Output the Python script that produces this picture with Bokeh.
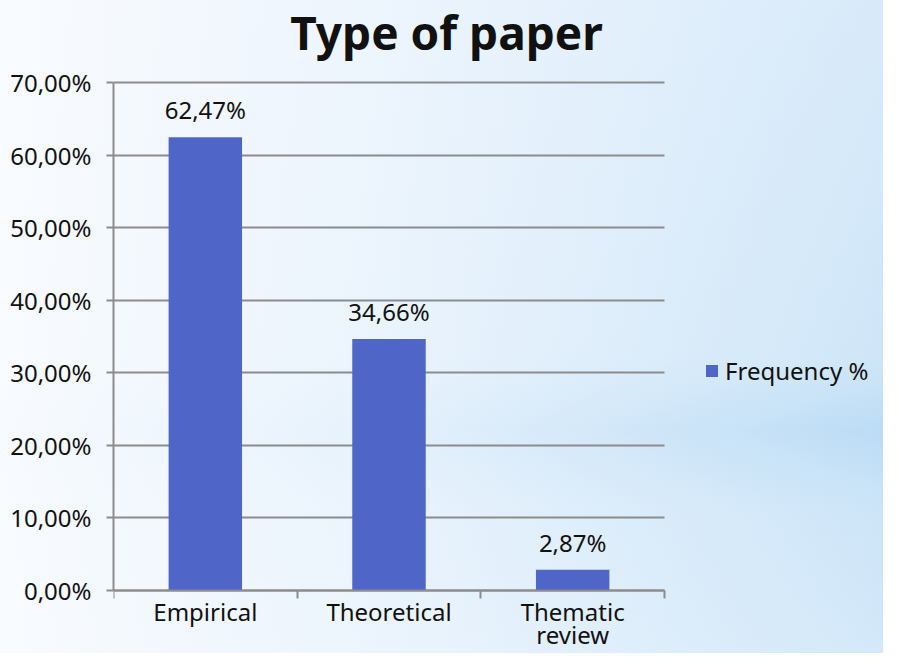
import numpy as np
from bokeh.plotting import figure
from bokeh.models import (ColumnDataSource, FixedTicker, CustomJSTickFormatter, LabelSet, Label,
                          Legend, LegendItem, Range1d, LinearAxis)
from bokeh.core.properties import value
from bokeh.embed import file_html
from bokeh.resources import INLINE

# ---- data ----
categories = ["Empirical", "Theoretical", "Thematic review"]
category_labels = ["Empirical", "Theoretical", "Thematic\nreview"]
frequency = [62.47, 34.66, 2.87]
y_ticks = [0, 10, 20, 30, 40, 50, 60, 70]
series_name = "Frequency %"
title_text = "Type of paper"

FONT = "Noto Sans"
TXT = "#111111"
GRID = "#8c8c8c"
BAR = "#4f66c8"

# ---- layout (pixels) ----
W, H = 883, 653
LEFT, TOP = 113, 82
AX_W, AX_H = 551, 508          # axes box (data area) size
Y_MAX = 70
n = len(categories)
FRAME_W = W - LEFT - 8

px_per_unit_x = AX_W / n
px_per_unit_y = AX_H / Y_MAX
x_end = FRAME_W / px_per_unit_x
y_end = Y_MAX + TOP / px_per_unit_y
y_start = -(H - TOP - AX_H) / px_per_unit_y

x_pos = np.arange(n) + 0.5
bar_text = [f"{v:.2f}".replace(".", ",") + "%" for v in frequency]
src = ColumnDataSource(dict(x=x_pos, top=frequency, label=bar_text, cat=categories))

p = figure(width=W, height=H, output_backend="svg", toolbar_location=None,
           x_range=Range1d(0, x_end), y_range=Range1d(y_start, y_end),
           min_border_left=LEFT, min_border_right=8, min_border_top=0, min_border_bottom=0)
p.outline_line_color = None
p.background_fill_alpha = 0
p.border_fill_alpha = 0
p.styles = {
    "background-image": "linear-gradient(90deg, rgba(250,252,255,0.95) 0%, rgba(245,249,254,0.75) 40%, rgba(255,255,255,0.0) 100%), "
                        "linear-gradient(180deg, #d8eafa 0%, #cfe6f8 55%, #bcdcf5 66%, #cde5f8 78%, #d3e8f9 100%)"
}

# title (drawn as a label so it can sit close to the top edge)
title = Label(x=333, y=H - 31, x_units="screen", y_units="screen", text=title_text,
              text_align="center", text_baseline="alphabetic", text_font=FONT,
              text_font_style="bold", text_font_size="46px", text_color=TXT)
p.add_layout(title)

bars = p.vbar(x="x", top="top", width=0.4, source=src, fill_color=BAR, line_color=None)

labels = LabelSet(x="x", y="top", text="label", source=src, text_align="center",
                  text_baseline="bottom", y_offset=11, text_font=value(FONT),
                  text_font_size=value("24px"), text_color=TXT)
p.add_layout(labels)

# main y axis
yax = p.yaxis[0]
yax.bounds = (0, Y_MAX)
yax.ticker = FixedTicker(ticks=y_ticks)
yax.formatter = CustomJSTickFormatter(code="return tick.toFixed(2).replace('.', ',') + '%';")
yax.major_label_text_font = FONT
yax.major_label_text_font_size = "24px"
yax.major_label_text_color = TXT
yax.major_tick_out = 7
yax.major_tick_in = 0
yax.minor_tick_line_color = None
yax.axis_line_color = GRID
yax.axis_line_width = 2
yax.major_tick_line_color = GRID
yax.major_tick_line_width = 2
yax.major_label_standoff = 15

# grid lines: inward ticks of a second, label-less axis drawn under the bars
grid_axis = LinearAxis(fixed_location=0, level="underlay", bounds=(0, Y_MAX),
                       ticker=FixedTicker(ticks=y_ticks),
                       formatter=CustomJSTickFormatter(code="return '';"),
                       major_tick_in=AX_W, major_tick_out=0,
                       major_tick_line_color=GRID, major_tick_line_width=2,
                       minor_tick_line_color=None, axis_line_color=None)
p.add_layout(grid_axis, "left")

# x axis: labels at centers, ticks at boundaries (minor)
xax = p.xaxis[0]
xax.fixed_location = 0
xax.bounds = (0, n)
xax.ticker = FixedTicker(ticks=list(x_pos), minor_ticks=list(range(n + 1)))
xax.major_label_overrides = {float(x): lab for x, lab in zip(x_pos, category_labels)}
xax.major_label_text_font = FONT
xax.major_label_text_font_size = "24px"
xax.major_label_text_color = TXT
xax.major_label_text_line_height = 0.7
xax.major_tick_line_color = None
xax.major_tick_out = 0
xax.major_tick_in = 0
xax.minor_tick_line_color = GRID
xax.minor_tick_line_width = 2
xax.minor_tick_out = 8
xax.minor_tick_in = 0
xax.axis_line_color = GRID
xax.axis_line_width = 2
xax.major_label_standoff = -4

p.xgrid.grid_line_color = None
p.ygrid.grid_line_color = None

legend = Legend(items=[LegendItem(label=series_name, renderers=[bars])],
                location=(591, 266), orientation="vertical",
                label_text_font=FONT, label_text_font_size="24px", label_text_color=TXT,
                glyph_width=15, glyph_height=15, label_standoff=6, padding=0, margin=0,
                spacing=0, background_fill_alpha=0, border_line_color=None)
p.add_layout(legend)

open("out.html", "w").write(file_html(p, INLINE))
